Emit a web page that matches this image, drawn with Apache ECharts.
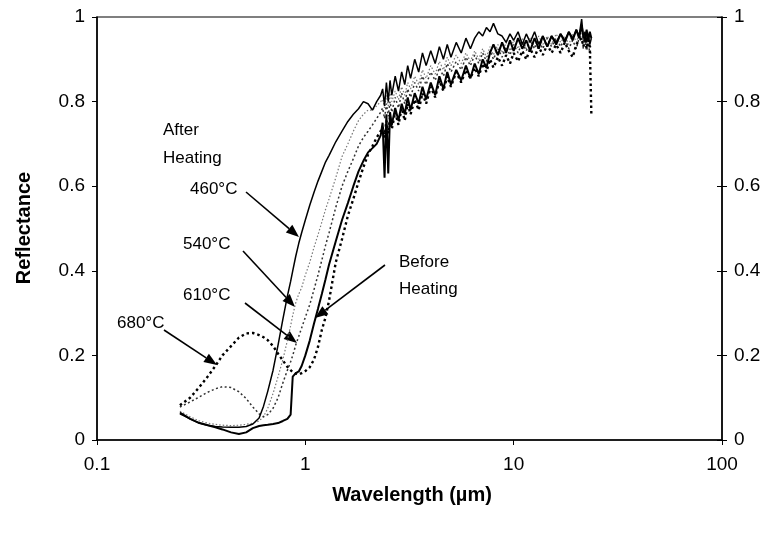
<!DOCTYPE html>
<html><head><meta charset="utf-8">
<script src="https://cdn.jsdelivr.net/npm/echarts/dist/echarts.min.js"></script>
<style>html,body{margin:0;padding:0;background:#fff}#c{width:771px;height:535px}</style>
</head><body><div id="c"></div>
<script>
// Wavelength grid (µm)
const wavelength = [
 0.25,0.28,0.31,0.34,0.37,0.40,0.44,0.48,0.52,0.56,
 0.60,0.63,0.66,0.70,0.74,0.78,0.82,0.85,0.87,0.90,
 0.93,0.96,1.0,1.05,1.1,1.15,1.2,1.25,1.3,1.4,
 1.5,1.6,1.7,1.8,1.9,2.0,2.1,2.2,2.3,
 2.35,2.4,2.45,2.5,2.55,2.6,2.7,2.8,2.9,3.0,
 3.1,3.2,3.35,3.5,3.65,3.8,4.0,4.2,4.4,4.6,
 4.8,5.0,5.3,5.6,5.9,6.2,6.5,6.8,7.1,7.4,
 7.7,8.0,8.4,8.8,9.2,9.6,10,10.5,11,11.5,
 12,12.6,13.2,13.8,14.5,15.2,16,16.8,17.6,18.4,
 19.2,20,20.6,21.2,21.6,22,22.4,22.8,23.2,23.6
];
const after460 = [
 0.062,0.050,0.040,0.035,0.032,0.031,0.030,0.030,0.032,0.038,
 0.052,0.08,0.115,0.165,0.225,0.285,0.34,0.375,0.40,0.435,
 0.465,0.49,0.52,0.555,0.585,0.612,0.635,0.657,0.673,0.705,
 0.73,0.753,0.77,0.783,0.80,0.795,0.78,0.80,0.815,
 0.83,0.79,0.845,0.80,0.85,0.815,0.86,0.825,0.87,0.84,
 0.885,0.855,0.90,0.87,0.915,0.885,0.92,0.89,0.93,0.90,
 0.935,0.905,0.94,0.915,0.95,0.925,0.95,0.965,0.955,0.975,
 0.965,0.985,0.96,0.955,0.94,0.96,0.945,0.965,0.935,0.96,
 0.94,0.965,0.935,0.955,0.93,0.955,0.94,0.96,0.945,0.965,
 0.95,0.97,0.955,0.995,0.95,0.965,0.94,0.96,0.935,0.95
];
const after540 = [
 0.068,0.055,0.045,0.040,0.037,0.035,0.034,0.035,0.037,0.040,
 0.045,0.055,0.075,0.11,0.15,0.19,0.235,0.27,0.295,0.325,
 0.345,0.36,0.39,0.42,0.455,0.485,0.515,0.545,0.57,0.62,
 0.67,0.70,0.73,0.755,0.77,0.78,0.78,0.79,0.80,
 0.805,0.785,0.815,0.79,0.82,0.80,0.825,0.805,0.835,0.815,
 0.845,0.83,0.86,0.84,0.875,0.855,0.885,0.865,0.895,0.875,
 0.905,0.885,0.91,0.89,0.915,0.895,0.92,0.90,0.925,0.905,
 0.93,0.91,0.935,0.915,0.94,0.92,0.945,0.925,0.95,0.925,
 0.95,0.93,0.955,0.935,0.955,0.935,0.96,0.94,0.955,0.935,
 0.96,0.94,0.96,0.965,0.94,0.96,0.935,0.955,0.93,0.93
];
const after610 = [
 0.078,0.09,0.102,0.113,0.121,0.126,0.124,0.114,0.098,0.078,
 0.062,0.055,0.06,0.075,0.10,0.135,0.165,0.185,0.20,0.225,
 0.245,0.265,0.29,0.32,0.355,0.39,0.425,0.46,0.49,0.55,
 0.60,0.635,0.665,0.695,0.715,0.73,0.745,0.76,0.775,
 0.785,0.76,0.795,0.765,0.80,0.775,0.81,0.785,0.82,0.795,
 0.83,0.81,0.845,0.825,0.86,0.84,0.87,0.85,0.88,0.86,
 0.89,0.87,0.895,0.875,0.905,0.885,0.91,0.89,0.915,0.895,
 0.92,0.90,0.925,0.905,0.93,0.91,0.935,0.915,0.94,0.92,
 0.945,0.925,0.945,0.925,0.95,0.93,0.95,0.93,0.95,0.925,
 0.945,0.925,0.95,0.955,0.925,0.945,0.92,0.94,0.915,0.915
];
const after680 = [
 0.082,0.10,0.125,0.15,0.175,0.20,0.222,0.242,0.252,0.253,
 0.248,0.243,0.236,0.222,0.204,0.188,0.173,0.165,0.16,0.157,
 0.155,0.158,0.163,0.172,0.19,0.22,0.26,0.29,0.33,0.42,
 0.475,0.53,0.57,0.61,0.645,0.675,0.695,0.715,0.73,
 0.74,0.715,0.755,0.725,0.765,0.735,0.775,0.745,0.785,0.755,
 0.795,0.77,0.805,0.78,0.82,0.795,0.835,0.81,0.85,0.825,
 0.86,0.835,0.87,0.845,0.875,0.855,0.88,0.86,0.89,0.87,
 0.90,0.88,0.905,0.885,0.91,0.89,0.915,0.895,0.92,0.90,
 0.925,0.905,0.93,0.91,0.935,0.915,0.935,0.915,0.94,0.92,
 0.905,0.935,0.945,0.95,0.93,0.95,0.925,0.945,0.93,0.77
];
const beforeHeating = [
 0.065,0.05,0.04,0.035,0.03,0.025,0.018,0.014,0.018,0.028,
 0.033,0.035,0.036,0.038,0.04,0.045,0.05,0.06,0.15,0.158,
 0.162,0.175,0.20,0.235,0.275,0.31,0.345,0.38,0.415,0.47,
 0.52,0.56,0.60,0.635,0.66,0.68,0.69,0.70,0.72,
 0.75,0.62,0.77,0.63,0.775,0.745,0.785,0.755,0.795,0.77,
 0.81,0.78,0.82,0.795,0.835,0.805,0.845,0.815,0.86,0.83,
 0.87,0.84,0.875,0.85,0.885,0.855,0.89,0.865,0.90,0.88,
 0.915,0.935,0.91,0.94,0.915,0.945,0.92,0.95,0.925,0.945,
 0.92,0.95,0.925,0.955,0.93,0.955,0.935,0.96,0.94,0.965,
 0.945,0.97,0.95,0.98,0.955,0.945,0.97,0.945,0.965,0.95
];
const xTickValues = [0.1, 1, 10, 100];
const yTickValues = [0, 0.2, 0.4, 0.6, 0.8, 1];
const yTitle = 'Reflectance';
const xTitle = 'Wavelength (\u00b5m)';

function pairs(vals) { return wavelength.map((w, i) => [w, vals[i]]); }

const FONT = '"Liberation Sans", Arial, Helvetica, sans-serif';
const chart = echarts.init(document.getElementById('c'));

function arrow(x1, y1, x2, y2) {
  const a = Math.atan2(y2 - y1, x2 - x1), L = 13, W = 5;
  const bx = x2 - L * Math.cos(a), by = y2 - L * Math.sin(a);
  const px = -Math.sin(a) * W, py = Math.cos(a) * W;
  return [
    {type: 'line', shape: {x1: x1, y1: y1, x2: bx, y2: by}, style: {stroke: '#000', lineWidth: 1.6}},
    {type: 'polygon', shape: {points: [[x2, y2], [bx + px, by + py], [bx - px, by - py]]}, style: {fill: '#000'}}
  ];
}
function label(t, x, y) {
  return {type: 'text', x: x, y: y, style: {text: t, font: '17px ' + FONT, fill: '#000', textAlign: 'left', textVerticalAlign: 'middle'}};
}

const graphics = [
  label('After', 163, 130), label('Heating', 163, 158),
  label('460\u00b0C', 190, 189), label('540\u00b0C', 183, 244),
  label('610\u00b0C', 183, 295), label('680\u00b0C', 117, 323),
  label('Before', 399, 262), label('Heating', 399, 289),
  {type: 'text', x: 24, y: 228, rotation: Math.PI / 2,
   style: {text: yTitle, font: 'bold 20px ' + FONT, fill: '#000', textAlign: 'center', textVerticalAlign: 'middle'}},
  {type: 'text', x: 412, y: 495,
   style: {text: xTitle, font: 'bold 20px ' + FONT, fill: '#000', textAlign: 'center', textVerticalAlign: 'middle'}}
].concat(
  arrow(246, 192, 299, 237),
  arrow(243, 251, 295, 307),
  arrow(245, 303, 297, 343),
  arrow(164, 330, 217, 365),
  arrow(385, 265, 315, 318)
);

const axisLabelBase = {color: '#000', fontSize: 19, fontFamily: FONT};
function yAxisDef(pos) {
  return {
    type: 'value', min: 0, max: 1, interval: 0.2, position: pos,
    axisLine: {show: true, lineStyle: {color: '#000', width: 1.5}},
    axisTick: {show: true, length: 5, lineStyle: {color: '#000'}},
    axisLabel: Object.assign({margin: 12, formatter: v => String(+v.toFixed(1))}, axisLabelBase),
    splitLine: {show: false}
  };
}
const rightInnerTicks = {
  type: 'value', min: 0, max: 1, interval: 0.2, position: 'right',
  axisLine: {show: false}, axisLabel: {show: false}, splitLine: {show: false},
  axisTick: {show: true, inside: true, length: 5, lineStyle: {color: '#000'}}
};

function series(name, vals, lineStyle, z) {
  return {name: name, type: 'line', data: pairs(vals), showSymbol: false, symbol: 'none',
          lineStyle: lineStyle, z: z, animation: false, smooth: false};
}

chart.setOption({
  animation: false,
  backgroundColor: '#fff',
  grid: {left: 97, right: 49, top: 17, bottom: 95, show: true, borderColor: '#000', borderWidth: 1.2},
  xAxis: {
    type: 'log', logBase: 10, min: 0.1, max: 100,
    axisLine: {show: true, lineStyle: {color: '#000', width: 1.5}},
    axisTick: {show: true, length: 5, lineStyle: {color: '#000'}},
    axisLabel: Object.assign({margin: 15, formatter: v => String(+(+v).toPrecision(3))}, axisLabelBase),
    splitLine: {show: false}, minorTick: {show: false}
  },
  yAxis: [yAxisDef('left'), yAxisDef('right'), rightInnerTicks],
  series: [
    series('540\u00b0C', after540, {color: '#777', width: 1.2, type: [1.5, 2]}, 2),
    series('610\u00b0C', after610, {color: '#333', width: 1.5, type: [2, 2.5]}, 3),
    series('680\u00b0C', after680, {color: '#000', width: 2.4, type: [2.5, 3]}, 4),
    series('Before Heating', beforeHeating, {color: '#000', width: 2, type: 'solid'}, 5),
    series('460\u00b0C', after460, {color: '#000', width: 1.5, type: 'solid'}, 6)
  ],
  graphic: graphics
});
</script></body></html>
